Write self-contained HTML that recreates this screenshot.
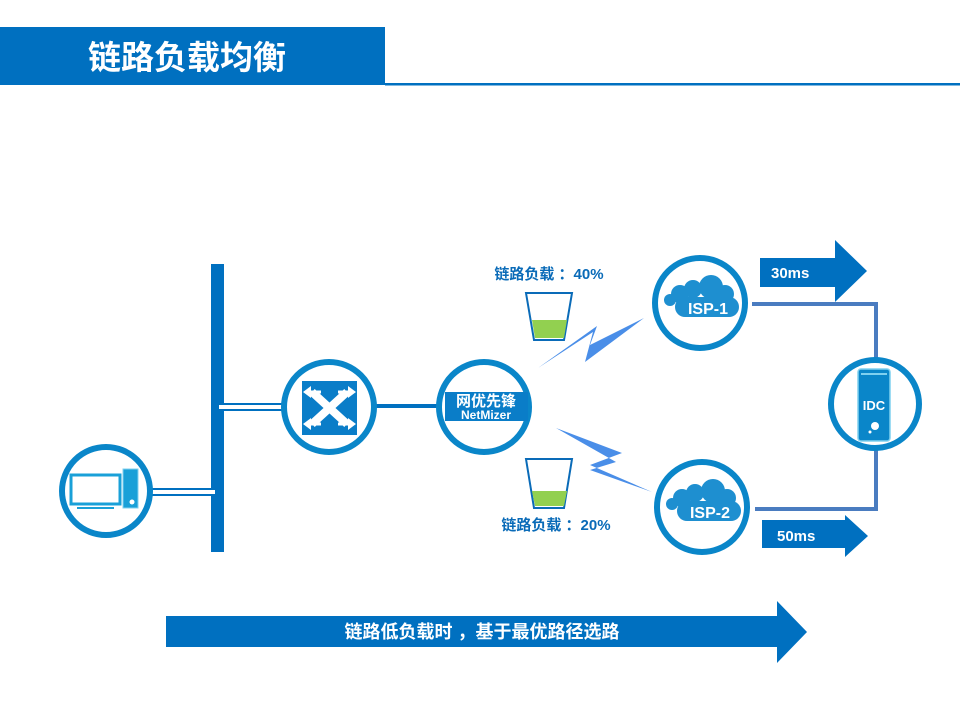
<!DOCTYPE html>
<html><head><meta charset="utf-8"><style>
html,body{margin:0;padding:0;background:#fff;width:960px;height:720px;overflow:hidden}
svg text{font-family:"Liberation Sans","Noto Sans CJK SC",sans-serif;font-weight:bold}
</style></head><body>
<svg width="960" height="720" viewBox="0 0 960 720" xmlns="http://www.w3.org/2000/svg">
<rect x="0" y="27" width="385" height="58" fill="#0070c0"/>
<rect x="385" y="83" width="575" height="2.5" fill="#0070c0"/>
<text x="88" y="69" font-size="33" fill="#fff">链路负载均衡</text>

<!-- bus -->
<rect x="211" y="264" width="13" height="288" fill="#0070c0"/>
<rect x="150" y="489" width="66" height="6" fill="#fff" stroke="#0070c0" stroke-width="2"/>
<rect x="218" y="404" width="66" height="6" fill="#fff" stroke="#0070c0" stroke-width="2"/>
<line x1="372" y1="406" x2="442" y2="406" stroke="#0070c0" stroke-width="4"/>

<!-- PC -->
<circle cx="106" cy="491" r="44" fill="#fff" stroke="#0a86c9" stroke-width="6"/>
<rect x="71" y="475" width="49" height="29" fill="#fff" stroke="#19a0d8" stroke-width="3"/>
<rect x="77" y="507" width="37" height="2" fill="#19a0d8"/>
<rect x="123" y="469" width="15" height="39" fill="#19a0d8" stroke="#7fd0ef" stroke-width="1"/>
<circle cx="132" cy="502" r="2.5" fill="#fff"/>

<!-- switch -->
<circle cx="329" cy="407" r="45" fill="#fff" stroke="#0a86c9" stroke-width="6"/>
<rect x="302" y="381" width="55" height="54" fill="#0a7dc8"/>
<path d="M312 392 L347 424 M347 392 L312 424" stroke="#fff" stroke-width="8"/>
<path d="M305 392 h16 M305 424 h16 M354 392 h-16 M354 424 h-16" stroke="#fff" stroke-width="3"/>
<path d="M303 392 l8 -6 v12z M303 424 l8 -6 v12z M356 392 l-8 -6 v12z M356 424 l-8 -6 v12z" fill="#fff"/>

<!-- netmizer -->
<circle cx="484" cy="407" r="45" fill="#fff" stroke="#0a86c9" stroke-width="6"/>
<rect x="445" y="392" width="83" height="29" fill="#0a7dc8"/>
<text x="486" y="406" font-size="15" fill="#fff" text-anchor="middle" font-weight="normal">网优先锋</text>
<text x="486" y="419" font-size="12" fill="#fff" text-anchor="middle">NetMizer</text>

<!-- cups -->
<text x="549" y="279" font-size="15" fill="#0a6bb8" text-anchor="middle">链路负载 ：40%</text>
<path d="M526 293 L572 293 L564 340 L534 340 Z" fill="#fff" stroke="#0a6bb8" stroke-width="2"/>
<path d="M532 320 L567 320 L564 338 L535 338 Z" fill="#92d050"/>
<path d="M526 459 L572 459 L564 508 L534 508 Z" fill="#fff" stroke="#0a6bb8" stroke-width="2"/>
<path d="M532 491 L567 491 L564 506 L535 506 Z" fill="#92d050"/>
<text x="556" y="530" font-size="15" fill="#0a6bb8" text-anchor="middle">链路负载 ：20%</text>

<!-- lightning -->
<path d="M538 368 L593 332 L585 362 L644 318 L590 345 L597 326 Z" fill="#4a8ee8"/>
<path d="M556 428 L622 453 L590 465 L652 492 L590 470 L616 462 Z" fill="#4a8ee8"/>

<!-- ISP lines -->
<path d="M752 304 H876 V358 M876 450 V509 H755" fill="none" stroke="#4a7cc0" stroke-width="4"/>

<!-- ISP1 -->
<circle cx="700" cy="303" r="45" fill="#fff" stroke="#0a86c9" stroke-width="6"/>
<g fill="#1e8fd0">
<circle cx="680" cy="294" r="9"/><circle cx="693" cy="289" r="9"/><circle cx="711" cy="287" r="12"/><circle cx="725" cy="294" r="9"/><circle cx="670" cy="300" r="6"/>
<rect x="675" y="297" width="64" height="20" rx="10"/></g>
<text x="708" y="314" font-size="16" fill="#fff" text-anchor="middle">ISP-1</text>

<!-- ISP2 -->
<circle cx="702" cy="507" r="45" fill="#fff" stroke="#0a86c9" stroke-width="6"/>
<g fill="#1e8fd0">
<circle cx="682" cy="498" r="9"/><circle cx="695" cy="493" r="9"/><circle cx="713" cy="491" r="12"/><circle cx="727" cy="498" r="9"/><circle cx="672" cy="504" r="6"/>
<rect x="677" y="501" width="64" height="20" rx="10"/></g>
<text x="710" y="518" font-size="16" fill="#fff" text-anchor="middle">ISP-2</text>

<!-- IDC -->
<circle cx="875" cy="404" r="44" fill="#fff" stroke="#0a86c9" stroke-width="6"/>
<rect x="858" y="369" width="32" height="72" rx="3" fill="#0a86c9" stroke="#7fd0ef" stroke-width="1.5"/>
<rect x="861" y="373" width="26" height="2" fill="#7fd0ef"/>
<circle cx="875" cy="426" r="4" fill="#fff"/><circle cx="870" cy="432" r="1.5" fill="#fff"/>
<text x="874" y="410" font-size="13" fill="#fff" text-anchor="middle">IDC</text>

<!-- arrows -->
<path d="M760 258 H835 V240 L867 271 L835 302 V287 H760 Z" fill="#0070c0"/>
<text x="771" y="278" font-size="15" fill="#fff">30ms</text>
<path d="M762 520 H845 V515 L868 536 L845 557 V548 H762 Z" fill="#0070c0"/>
<text x="777" y="541" font-size="15" fill="#fff">50ms</text>
<path d="M166 616 H777 V601 L807 632 L777 663 V647 H166 Z" fill="#0070c0"/>
<text x="482" y="638" font-size="18" fill="#fff" text-anchor="middle">链路低负载时 ，基于最优路径选路</text>
</svg>
</body></html>
